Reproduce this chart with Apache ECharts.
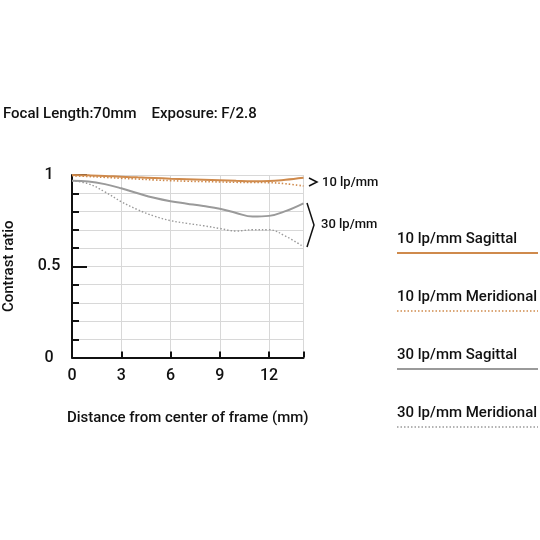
<!DOCTYPE html>
<html>
<head>
<meta charset="utf-8">
<script src="https://cdn.jsdelivr.net/npm/echarts@6/dist/echarts.min.js"></script>
<style>
  html, body { margin: 0; padding: 0; background: #fff; }
  #chart { width: 540px; height: 540px; }
</style>
</head>
<body>
<div id="chart"></div>
<script>
// distance from center of frame (mm)
const distances = [0, 1, 2, 3, 4, 5, 6, 7, 8, 9, 10, 11, 12, 13, 14.1];
// contrast values
const sag10 = [1.0, 0.998, 0.995, 0.99, 0.987, 0.984, 0.98, 0.977, 0.974, 0.971, 0.968, 0.966, 0.967, 0.974, 0.985];
const mer10 = [0.996, 0.992, 0.987, 0.982, 0.978, 0.973, 0.969, 0.966, 0.964, 0.962, 0.960, 0.959, 0.958, 0.952, 0.94];
const sag30 = [0.969, 0.965, 0.950, 0.927, 0.900, 0.875, 0.856, 0.843, 0.830, 0.815, 0.792, 0.772, 0.776, 0.802, 0.845];
const mer30 = [0.969, 0.952, 0.908, 0.854, 0.810, 0.775, 0.750, 0.735, 0.722, 0.707, 0.693, 0.700, 0.700, 0.665, 0.607];

const xTicks = [0, 3, 6, 9, 12];
const yLabels = { 0: "0", 0.5: "0.5", 1: "1" };
const legendNames = ["10 lp/mm Sagittal", "10 lp/mm Meridional", "30 lp/mm Sagittal", "30 lp/mm Meridional"];

const ORANGE = "#cf8a4c";
const GREY = "#9a9a9a";
const FONT = "Roboto";

const pairs = (ys) => distances.map((x, i) => [x, ys[i]]);

const chart = echarts.init(document.getElementById("chart"));

const lineStyles = [
  { color: ORANGE, width: 2, type: "solid" },
  { color: ORANGE, width: 1.6, type: [1.5, 2] },
  { color: GREY, width: 2, type: "solid" },
  { color: GREY, width: 1.4, type: [1.5, 2] },
];

// legend drawn as text with a line under it
const legendGraphics = [];
legendNames.forEach((name, i) => {
  const top = 240 + i * 58;
  legendGraphics.push({
    type: "text", left: 397, top: top - 8,
    style: { text: name, font: "500 15px " + FONT, fill: "#111" },
  });
  legendGraphics.push({
    type: "line",
    shape: { x1: 397, y1: top + 13, x2: 538, y2: top + 13 },
    style: {
      stroke: lineStyles[i].color,
      lineWidth: i % 2 ? 1.4 : 2,
      lineDash: i % 2 ? [1.5, 2] : null,
    },
  });
});

const option = {
  animation: false,
  grid: { left: 72, right: 236.5, top: 175, bottom: 182.5 },
  xAxis: {
    type: "value",
    min: 0, max: 14.1, interval: 3,
    axisLine: { lineStyle: { color: "#111", width: 2 } },
    axisTick: { inside: true, length: 6, lineStyle: { color: "#111", width: 2 } },
    axisLabel: {
      margin: 10, fontSize: 16, fontWeight: 500, color: "#111", fontFamily: FONT,
      formatter: (v) => (xTicks.includes(v) ? String(v) : ""),
    },
    splitLine: { show: true, lineStyle: { color: "#d8d8d8", width: 1 } },
    name: "Distance from center of frame (mm)",
    nameLocation: "middle", nameGap: 53,
    nameTextStyle: { fontSize: 15, color: "#111", fontFamily: FONT, fontWeight: 500 },
  },
  yAxis: [
    {
      type: "value",
      min: 0, max: 1, interval: 0.1,
      axisLine: { show: true, lineStyle: { color: "#111", width: 2 } },
      axisTick: { inside: true, length: 7, lineStyle: { color: "#111", width: 2 } },
      axisLabel: {
        margin: 23, align: "center", fontSize: 16, fontWeight: 500, color: "#111", fontFamily: FONT,
        formatter: (v) => yLabels[Math.round(v * 10) / 10] || "",
      },
      splitLine: { show: true, lineStyle: { color: "#d8d8d8", width: 1 } },
      name: "Contrast ratio",
      nameLocation: "middle", nameGap: 55, nameRotate: 90,
      nameTextStyle: { fontSize: 15, color: "#111", fontFamily: FONT, fontWeight: 500 },
    },
    {
      // longer ticks at 0.5 and 1
      type: "value", position: "left",
      min: 0, max: 1, interval: 0.5,
      axisLine: { show: false },
      axisTick: { show: true, inside: true, length: 15, lineStyle: { color: "#111", width: 2 } },
      axisLabel: { show: false },
      splitLine: { show: false },
    },
  ],
  series: [sag10, mer10, sag30, mer30].map((ys, i) => ({
    name: legendNames[i],
    type: "line",
    data: pairs(ys),
    smooth: 0.4,
    showSymbol: false,
    lineStyle: lineStyles[i],
    z: 4 - i,
  })),
  graphic: [
    {
      type: "text", left: 3, top: 107,
      style: { text: "Focal Length:70mm    Exposure: F/2.8", font: "500 15px " + FONT, fill: "#111" },
    },
    {
      type: "polyline",
      shape: { points: [[309, 178], [317, 182], [309, 186]] },
      style: { stroke: "#111", lineWidth: 1.5, fill: null },
    },
    {
      type: "text", left: 322, top: 176,
      style: { text: "10 lp/mm", font: "500 13px " + FONT, fill: "#111" },
    },
    {
      type: "polyline",
      shape: { points: [[307, 203], [314, 225], [307, 247]] },
      style: { stroke: "#111", lineWidth: 1.5, fill: null },
    },
    {
      type: "text", left: 321, top: 218,
      style: { text: "30 lp/mm", font: "500 13px " + FONT, fill: "#111" },
    },
  ].concat(legendGraphics),
};

chart.setOption(option);
</script>
</body>
</html>
